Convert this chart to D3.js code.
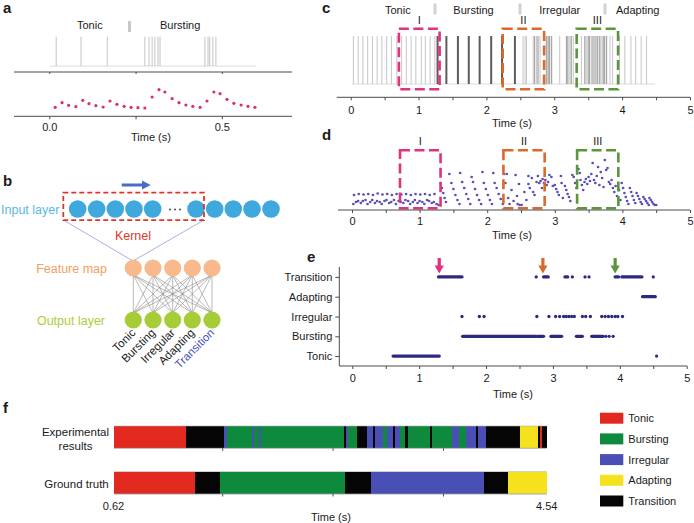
<!DOCTYPE html>
<html><head><meta charset="utf-8">
<script src="https://cdn.jsdelivr.net/npm/d3@7"></script>
<style>body{margin:0;background:#fff}svg{display:block;font-family:"Liberation Sans",Arial,Helvetica,sans-serif}</style>
</head><body><svg id="fig" width="694" height="523"></svg>
<script>
// ---------------- DATA ----------------
// panel a
const aLegend = ["Tonic", "Bursting"];
const aSpikeTimes = [0.02,0.092,0.168,0.277,0.289,0.298,0.306,0.315,0.321,0.451,0.46,0.465,0.474,0.483];
const aRateTimes = [0.017,0.037,0.056,0.077,0.097,0.115,0.135,0.156,0.176,0.196,0.217,0.237,0.257,0.277,0.298,0.318,0.335,0.356,0.376,0.396,0.416,0.437,0.457,0.477,0.495,0.515,0.535,0.556,0.576,0.596];
const aRateValues = [9,13.6,11,9.6,16,12.6,10.6,9.3,15.3,12,10,9,8.6,8.3,19.3,26.6,24.3,17.6,13.6,11.3,10,9,15.3,24.3,22.6,17,13,11.3,10,9];
const aTicks = [0, 0.25, 0.5];
const aTickLabels = ["0.0", "", "0.5"];

// panel b
const layerNames = ["Input layer", "Kernel", "Feature map", "Output layer"];
const outputClasses = ["Tonic", "Bursting", "Irregular", "Adapting", "Transition"];

// panel c
const cLegend = ["Tonic", "Bursting", "Irregular", "Adapting"];
const cSpikeTimes = [0.04,0.11,0.18,0.25,0.32,0.39,0.46,0.53,0.6,0.68,0.75,0.82,0.89,0.96,1.04,1.1,1.17,1.24,
  1.28,1.41,1.58,1.74,1.9,2.07,2.23,2.42,
  2.54,2.57,2.59,2.69,2.71,2.74,2.76,2.79,2.885,2.91,2.93,2.96,3.08,3.18,3.2,3.23,3.25,3.28,3.4,3.45,3.47,3.5,3.52,3.55,3.57,3.6,3.62,3.64,3.67,3.69,3.72,3.74,3.77,3.82,3.86,
  3.96,4.04,4.13,4.2,4.28,4.36];
const cSpikeShade = ["l","l","l","l","l","l","l","l","l","l","l","l","l","l","l","l","l","l",
  "d","d","d","d","d","d","d","d",
  "l","l","l","l","m","l","m","l","m","m","m","m","l","m","m","l","m","l","l","m","l","m","m","l","m","m","l","m","m","l","m","m","m","l","l",
  "l","l","l","l","l","l"];
const windowNames = ["I", "II", "III"];
const windowStarts = [0.71, 2.24, 3.33];
const windowEnds = [1.31, 2.85, 3.94];
const timeTicks = [0, 1, 2, 3, 4, 5];
const timeMinorTicks = [0.5, 1.5, 2.5, 3.5, 4.5];

// panel d  [time (s), value]
const dPoints = [
 [0.03,15],[0.1,16],[0.17,15.5],[0.24,16],[0.31,15],[0.38,16.5],[0.45,15.5],[0.52,16],[0.59,15],[0.66,16],[0.73,15.5],[0.8,16],[0.87,15],[0.94,16],[1.01,15.5],[1.08,16],[1.15,15],[1.22,16],
 [0.02,6],[0.06,8],[0.09,9],[0.13,7],[0.16,9],[0.2,10],[0.23,6],[0.27,8],[0.3,10],[0.34,7],[0.37,9],[0.41,8],[0.44,6],[0.48,9],[0.51,10],[0.55,7],[0.58,8],[0.62,10],[0.65,6],[0.69,9],[0.72,8],[0.76,7],[0.79,10],[0.83,9],[0.86,6],[0.9,8],[0.93,10],[0.97,7],[1.0,9],[1.04,8],[1.07,6],[1.11,10],[1.14,9],[1.18,7],[1.21,8],[1.25,6],[1.28,5],
 [1.31,27],[1.33,22],[1.35,17],[1.37,12],[1.39,8],[1.44,36],
 [1.47,27],[1.5,21],[1.53,15],[1.56,10],[1.59,6],[1.6,37],
 [1.63,28],[1.66,22],[1.69,16],[1.72,11],[1.75,6],[1.77,33],
 [1.79,28],[1.82,21],[1.85,15],[1.88,10],[1.91,6],[1.93,38],
 [1.95,27],[1.98,21],[2.01,15],[2.04,10],[2.07,6],[2.09,37],
 [2.11,27],[2.14,22],[2.17,16],[2.2,11],[2.23,6],[2.25,36],
 [2.27,27],[2.29,36],[2.31,12],[2.33,6],[2.36,20],[2.39,9],[2.42,35],[2.44,14],[2.45,6],[2.47,26],[2.48,5],[2.51,5],[2.55,18],[2.58,10],[2.61,34],[2.61,26],[2.63,22],[2.66,32],[2.68,18],[2.7,15],[2.73,28],[2.75,34],[2.77,27],[2.79,29],[2.81,22],[2.82,31],[2.84,27],[2.86,30],[2.88,25],[2.9,28],[2.92,35],[2.95,33],[2.97,24],[3.0,25],[3.02,21],[3.04,18],[3.06,15],[3.09,34],[3.1,27],[3.12,12],[3.15,24],[3.17,20],[3.19,16],[3.21,13],[3.23,9],[3.26,35],[3.28,33],[3.3,27],[3.32,22],[3.35,41],[3.37,37],[3.38,30],[3.4,25],[3.42,20],[3.44,28],[3.46,31],[3.48,26],[3.5,33],[3.52,29],[3.54,36],[3.56,47],[3.58,30],[3.6,27],[3.62,34],[3.64,43],[3.66,25],[3.68,38],[3.7,32],[3.72,23],[3.74,50],[3.76,40],[3.78,42],[3.8,28],[3.82,26],[3.84,30],[3.86,22],[3.88,18],[3.9,24],[3.92,14],[3.95,20],[3.97,10],
 [3.99,27],[4.01,22],[4.03,17],[4.05,13],[4.07,9],[4.09,6],
 [4.11,22],[4.13,18],[4.15,14],[4.17,10],[4.19,7],
 [4.21,17],[4.23,14],[4.25,11],[4.27,8],[4.29,6],
 [4.31,13],[4.33,11],[4.35,9],[4.37,7],[4.39,5],
 [4.4,12],[4.42,10],[4.44,8],[4.46,6],[4.48,5],[4.5,5]
];

// panel e  runs of classified windows [start, end] (s)
const eCategories = ["Tonic", "Bursting", "Irregular", "Adapting", "Transition"];
const eTonicRuns = [[0.61,1.3],[4.55,4.55]];
const eBurstingRuns = [[1.65,2.75],[2.77,2.86],[2.97,3.13],[3.35,3.44],[3.58,3.75],[3.79,3.79],[3.84,3.84],[3.9,3.9]];
const eIrregularRuns = [[1.64,1.64],[1.9,1.9],[1.97,1.97],[2.76,2.76],[2.94,2.94],[3.04,3.04],[3.1,3.1],[3.16,3.16],[3.2,3.2],[3.24,3.24],[3.28,3.28],[3.32,3.32],[3.44,3.44],[3.49,3.49],[3.56,3.56],[3.73,3.73],[3.78,3.78],[3.83,3.83],[3.88,3.88],[3.93,3.93],[3.97,3.97],[4.04,4.04]];
const eAdaptingRuns = [[4.34,4.53]];
const eTransitionRuns = [[1.29,1.64],[2.75,2.75],[2.86,2.93],[3.18,3.22],[3.29,3.29],[3.48,3.48],[3.54,3.54],[3.93,3.98],[4.03,4.33],[4.5,4.5]];
const eArrowTimes = [1.3, 2.85, 3.93];

// panel f
const fClassNames = ["Tonic", "Bursting", "Irregular", "Adapting", "Transition"];
const fRowNames = ["Experimental results", "Ground truth"];
const fExpBreaks = [0.62,1.27,1.62,1.64,1.87,1.89,1.93,1.95,2.70,2.72,2.74,2.82,2.91,2.97,2.98,3.06,3.09,3.15,3.17,3.21,3.26,3.28,3.48,3.50,3.68,3.75,3.81,3.90,3.92,3.99,4.30,4.46,4.48,4.50,4.54];
const fExpClasses = ["Tonic","Transition","Irregular","Bursting","Irregular","Bursting","Irregular","Bursting","Transition","Irregular","Bursting","Transition","Irregular","Transition","Irregular","Bursting","Irregular","Transition","Irregular","Bursting","Transition","Bursting","Transition","Bursting","Irregular","Bursting","Irregular","Transition","Irregular","Transition","Adapting","Transition","Tonic","Transition"];
const fGtBreaks = [0.62,1.356,1.58,2.71,2.95,3.97,4.19,4.54];
const fGtClasses = ["Tonic","Transition","Bursting","Transition","Irregular","Transition","Adapting"];
const fTicks = [1.6, 2.6, 3.6];
const fEndLabels = ["0.62", "4.54"];

// ---------------- DRAWING ----------------
const svg = d3.select("#fig");
const AX = "#4a4a4a";
const TXT = "#1a1a1a";

function text(g, s, x, y, size, opts = {}) {
  return g.append("text").attr("x", x).attr("y", y).attr("font-size", size)
    .attr("fill", opts.fill || TXT).attr("text-anchor", opts.anchor || "start")
    .attr("font-weight", opts.weight || "normal").text(s);
}
function panelLetter(s, x, y) { text(svg, s, x, y, 15, {weight: "bold"}); }

function hline(g, x0, x1, y, color, w) {
  g.append("line").attr("x1", x0).attr("x2", x1).attr("y1", y).attr("y2", y)
    .attr("stroke", color).attr("stroke-width", w || 1);
}
function bottomAxis(g, scale, y, ticks, fmt, labelOffset, tickLen) {
  const axis = d3.axisBottom(scale).tickValues(ticks).tickSize(tickLen || 3).tickFormat(fmt);
  const ga = g.append("g").attr("transform", `translate(0,${y})`).call(axis);
  ga.select(".domain").remove();
  ga.selectAll("line").attr("stroke", AX);
  ga.selectAll("text").attr("font-size", 11).attr("fill", TXT)
    .attr("font-family", '"Liberation Sans",Arial,sans-serif').attr("y", labelOffset);
  return ga;
}
function dashedBox(g, x0, x1, y0, y1, color) {
  g.append("rect").attr("x", x0).attr("y", y0).attr("width", x1 - x0).attr("height", y1 - y0)
    .attr("fill", "none").attr("stroke", color).attr("stroke-width", 2.6)
    .attr("stroke-dasharray", "10,4.5");
}

// ===== Panel a =====
{
  const g = svg.append("g");
  panelLetter("a", 3, 13);
  const x = d3.scaleLinear().domain([0, 0.5]).range([49.3, 221.8]);
  const y = d3.scaleLinear().domain([0, 30]).range([116.3, 86.3]);
  text(g, aLegend[0], 77, 29, 11);
  g.append("rect").attr("x", 128).attr("y", 21).attr("width", 3).attr("height", 11).attr("fill", "#c8c8c8");
  text(g, aLegend[1], 160, 29, 11);
  hline(g, 50, 256, 66, "#dcdcdc");
  g.selectAll(".aspk").data(aSpikeTimes).join("line")
    .attr("x1", d => x(d)).attr("x2", d => x(d)).attr("y1", 36.7).attr("y2", 66)
    .attr("stroke", "#c4c4c4").attr("stroke-width", 1);
  hline(g, 14, 292, 72, AX);
  bottomAxis(g, x, 72, aTicks, () => "", 0, 2);
  g.selectAll(".adot").data(aRateTimes).join("circle")
    .attr("cx", d => x(d)).attr("cy", (d, i) => y(aRateValues[i])).attr("r", 1.6).attr("fill", "#d6355f");
  hline(g, 14, 292, 116.3, AX);
  bottomAxis(g, x, 116.3, aTicks, (d, i) => aTickLabels[i], 6.5, 3);
  text(g, "Time (s)", 151, 141, 11, {anchor: "middle"});
}

// ===== Panel b =====
{
  const g = svg.append("g");
  panelLetter("b", 3, 186);
  g.append("rect").attr("x", 121.7).attr("y", 183.5).attr("width", 21).attr("height", 3).attr("fill", "#4a6cc4");
  g.append("path").attr("d", "M142,180.6 L150.7,185 L142,189.4 Z").attr("fill", "#4a6cc4");
  g.append("line").attr("x1", 63.3).attr("y1", 220).attr("x2", 133).attr("y2", 261).attr("stroke", "#8ea0d8").attr("stroke-width", 0.8);
  g.append("line").attr("x1", 204).attr("y1", 220).attr("x2", 133).attr("y2", 261).attr("stroke", "#8ea0d8").attr("stroke-width", 0.8);
  const inX = [77.7, 96.7, 115.3, 134, 152.7, 196, 214.7, 233.3, 252, 271];
  g.selectAll(".inc").data(inX).join("circle").attr("cx", d => d).attr("cy", 209).attr("r", 8.8).attr("fill", "#3fa8dc");
  [170, 175, 180].forEach(cx => g.append("circle").attr("cx", cx).attr("cy", 209.5).attr("r", 0.9).attr("fill", "#333"));
  g.append("rect").attr("x", 63.3).attr("y", 192.7).attr("width", 140.7).attr("height", 27.5)
    .attr("fill", "none").attr("stroke", "#e0352b").attr("stroke-width", 1.8).attr("stroke-dasharray", "5,3");
  text(g, layerNames[0], 1, 213.5, 12.5, {fill: "#5ab7e2"});
  text(g, layerNames[1], 133, 239.5, 12.5, {fill: "#e0352b", anchor: "middle"});
  text(g, layerNames[2], 107, 272.5, 12.5, {fill: "#f2a062", anchor: "end"});
  text(g, layerNames[3], 105, 324.5, 12.5, {fill: "#a9cf3a", anchor: "end"});
  const nodeX = [133.3, 153, 172.7, 192.3, 212];
  nodeX.forEach(fx => nodeX.forEach(ox => {
    g.append("line").attr("x1", fx).attr("y1", 275).attr("x2", ox).attr("y2", 313)
      .attr("stroke", "#8a8a8a").attr("stroke-width", 0.6);
  }));
  g.selectAll(".fm").data(nodeX).join("circle").attr("cx", d => d).attr("cy", 268).attr("r", 8.6).attr("fill", "#f8ba8c");
  g.selectAll(".ol").data(nodeX).join("circle").attr("cx", d => d).attr("cy", 320).attr("r", 8.6).attr("fill", "#a6cd36");
  outputClasses.forEach((c, i) => {
    g.append("text").attr("transform", `translate(${nodeX[i] + 3},${333.5}) rotate(-45)`)
      .attr("text-anchor", "end").attr("font-size", 11.5)
      .attr("fill", i === 4 ? "#4a4fb5" : TXT).text(c);
  });
}

// ===== Panel c =====
{
  const g = svg.append("g");
  panelLetter("c", 322, 13);
  const x = d3.scaleLinear().domain([0, 5]).range([350.7, 690]);
  const legX = [385, 453.3, 539.3, 616];
  const barX = [435, 520, 605];
  cLegend.forEach((s, i) => text(g, s, legX[i], 13.5, 11));
  barX.forEach(bx => g.append("rect").attr("x", bx - 1.5).attr("y", 3.5).attr("width", 3).attr("height", 11).attr("fill", "#d2d2d2"));
  windowNames.forEach((s, i) => text(g, s, (x(windowStarts[i]) + x(windowEnds[i])) / 2, 24, 11, {anchor: "middle"}));
  hline(g, 351.7, 655, 84, "#dcdcdc");
  const shadeCol = {l: "#c6c6c6", m: "#a8a8a8", d: "#5c5c5c"};
  const shadeW = {l: 1, m: 1.3, d: 2};
  g.selectAll(".cspk").data(cSpikeTimes).join("line")
    .attr("x1", d => x(d)).attr("x2", d => x(d)).attr("y1", 36).attr("y2", 84)
    .attr("stroke", (d, i) => shadeCol[cSpikeShade[i]]).attr("stroke-width", (d, i) => shadeW[cSpikeShade[i]]);
  const wCol = ["#e2317e", "#d96a2b", "#5a963a"];
  windowNames.forEach((s, i) => dashedBox(g, x(windowStarts[i]), x(windowEnds[i]), 28.8, 89.3, wCol[i]));
  hline(g, 336.7, 690, 97.3, AX);
  bottomAxis(g, x, 97.3, timeTicks.concat(timeMinorTicks), d => Number.isInteger(d) ? d : "", 9, 3);
  text(g, "Time (s)", 512, 127, 11, {anchor: "middle"});
}

// ===== Panel d =====
{
  const g = svg.append("g");
  panelLetter("d", 322, 140);
  const x = d3.scaleLinear().domain([0, 5]).range([352, 690]);
  const y = d3.scaleLinear().domain([0, 60]).range([210, 150]);
  windowNames.forEach((s, i) => text(g, s, (x(windowStarts[i]) + x(windowEnds[i])) / 2, 145, 11, {anchor: "middle"}));
  const wCol = ["#e2317e", "#d96a2b", "#5a963a"];
  g.selectAll(".dd").data(dPoints).join("circle")
    .attr("cx", d => x(d[0])).attr("cy", d => y(d[1])).attr("r", 1.35).attr("fill", "#5a4fb6");
  windowNames.forEach((s, i) => dashedBox(g, x(windowStarts[i]), x(windowEnds[i]), 150.3, 208.3, wCol[i]));
  hline(g, 338, 690, 210, AX);
  bottomAxis(g, x, 210, timeTicks.concat(timeMinorTicks), d => Number.isInteger(d) ? d : "", 7.2, 3);
  text(g, "Time (s)", 512, 239, 11, {anchor: "middle"});
}

// ===== Panel e =====
{
  const g = svg.append("g");
  panelLetter("e", 307, 262);
  const x = d3.scaleLinear().domain([0, 5]).range([352.3, 686.7]);
  const y = d3.scalePoint().domain(eCategories).range([366, 267]).padding(0.5);
  g.append("line").attr("x1", 339.3).attr("x2", 339.3).attr("y1", 267).attr("y2", 366).attr("stroke", AX);
  const ya = g.append("g").attr("transform", "translate(339.3,0)").call(d3.axisLeft(y).tickSize(4).tickPadding(3));
  ya.select(".domain").remove();
  ya.selectAll("line").attr("stroke", AX);
  ya.selectAll("text").attr("font-size", 11).attr("fill", TXT).attr("font-family", '"Liberation Sans",Arial,sans-serif');
  hline(g, 339.3, 687, 366, AX);
  bottomAxis(g, x, 366, timeTicks.concat(timeMinorTicks), d => Number.isInteger(d) ? d : "", 8, 3);
  text(g, "Time (s)", 513, 398, 11, {anchor: "middle"});
  const runSets = [eTonicRuns, eBurstingRuns, eIrregularRuns, eAdaptingRuns, eTransitionRuns];
  runSets.forEach((runs, ci) => {
    g.selectAll(null).data(runs).join("line")
      .attr("x1", d => x(d[0])).attr("x2", d => x(d[1]))
      .attr("y1", y(eCategories[ci])).attr("y2", y(eCategories[ci]))
      .attr("stroke", "#2c2a7e").attr("stroke-width", 3.3).attr("stroke-linecap", "round");
  });
  const arrowCol = ["#e2317e", "#d96a2b", "#5a963a"];
  eArrowTimes.forEach((t, i) => {
    const cx = x(t);
    g.append("rect").attr("x", cx - 1.6).attr("y", 258).attr("width", 3.2).attr("height", 8).attr("fill", arrowCol[i]);
    g.append("path").attr("d", `M${cx - 4.6},265.5 L${cx + 4.6},265.5 L${cx},273.5 Z`).attr("fill", arrowCol[i]);
  });
}

// ===== Panel f =====
{
  const g = svg.append("g");
  panelLetter("f", 3, 413);
  const x = d3.scaleLinear().domain([0.62, 4.54]).range([114, 546.7]);
  const col = d3.scaleOrdinal().domain(fClassNames).range(["#e2291f", "#0e8a3c", "#4a4fb6", "#f6e21c", "#050505"]);
  function bar(breaks, classes, y0, h) {
    const segs = classes.map((c, i) => ({c, a: breaks[i], b: breaks[i + 1]}));
    g.selectAll(null).data(segs).join("rect")
      .attr("x", d => x(d.a)).attr("width", d => Math.max(0.6, x(d.b) - x(d.a)))
      .attr("y", y0).attr("height", h).attr("fill", d => col(d.c)).attr("shape-rendering", "crispEdges");
    hline(g, 114, 546.7, y0, "#b0b0b0", 0.6);
    hline(g, 114, 546.7, y0 + h, "#9a9a9a", 0.8);
    bottomAxis(g, x, y0 + h, fTicks, () => "", 0, 2.5);
  }
  bar(fExpBreaks, fExpClasses, 426, 22.3);
  bar(fGtBreaks, fGtClasses, 471.5, 22.5);
  text(g, "Experimental", 75.5, 436, 11.5, {anchor: "middle"});
  text(g, "results", 75.5, 449.5, 11.5, {anchor: "middle"});
  text(g, "Ground truth", 76.5, 487.5, 11.5, {anchor: "middle"});
  text(g, fEndLabels[0], 113.5, 510, 11, {anchor: "middle"});
  text(g, fEndLabels[1], 546.7, 510, 11, {anchor: "middle"});
  text(g, "Time (s)", 331, 520.5, 11, {anchor: "middle"});
  const legY = [412.7, 433.4, 454.1, 474.8, 495.5];
  fClassNames.forEach((c, i) => {
    g.append("rect").attr("x", 600).attr("y", legY[i]).attr("width", 23.3).attr("height", 11).attr("fill", col(c));
    text(g, c, 628.3, legY[i] + 9.5, 11);
  });
}
</script></body></html>
